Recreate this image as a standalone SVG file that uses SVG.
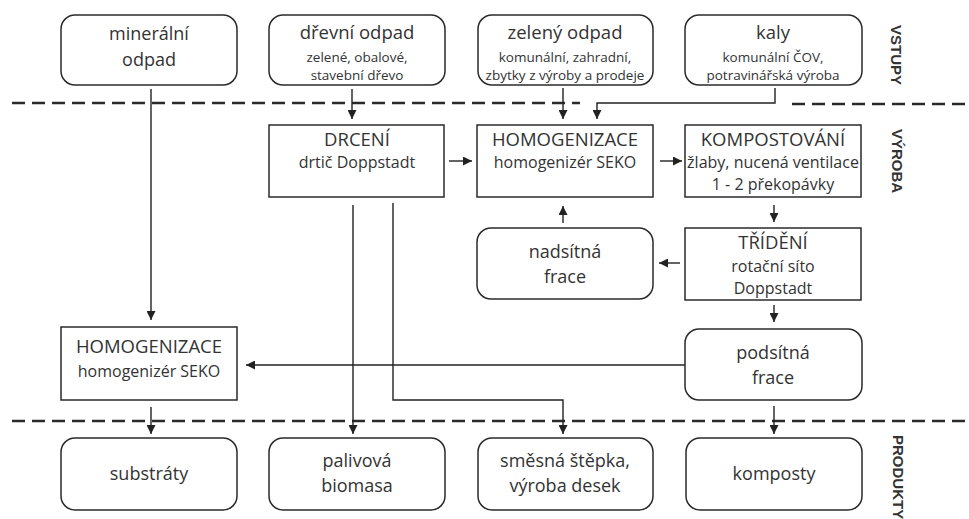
<svg xmlns="http://www.w3.org/2000/svg" width="969" height="519" viewBox="0 0 969 519">
<defs>
<marker id="ah" viewBox="0 0 10 10" refX="10" refY="5" markerWidth="9" markerHeight="9" markerUnits="userSpaceOnUse" orient="auto">
<path d="M0,0 L10,5 L0,10 z" fill="#222"/>
</marker>
<style>
.box{fill:#fff;stroke:#2a2a2a;stroke-width:1.5}
.t{font-family:"Open Sans","Liberation Sans",sans-serif;fill:#333;text-anchor:middle}
.h{font-size:18.5px}
.m{font-size:16px}
.s{font-size:13.5px}
.b{font-size:18px}
.c{fill:none;stroke:#222;stroke-width:1.4}
.ca{fill:none;stroke:#222;stroke-width:1.4;marker-end:url(#ah)}
.dash{fill:none;stroke:#2a2a2a;stroke-width:2.5;stroke-dasharray:13 7}
.lab{font-family:"Liberation Sans",Arial,sans-serif;font-weight:bold;font-size:15px;fill:#333}
</style>
</defs>
<rect width="969" height="519" fill="#fff"/>

<g id="separators">
<line class="dash" x1="12" y1="103" x2="580" y2="103"/>
<line class="dash" x1="792" y1="104" x2="969" y2="104"/>
<line class="dash" x1="12" y1="421" x2="969" y2="421"/>
</g>

<g id="section-labels">
<text class="lab" transform="translate(891,25) rotate(90)">VSTUPY</text>
<text class="lab" transform="translate(892,129) rotate(90)">VÝROBA</text>
<text class="lab" transform="translate(893,435) rotate(90)">PRODUKTY</text>
</g>

<g id="connectors">
<path class="ca" d="M352,89 V119"/>
<path class="ca" d="M563,88 V119"/>
<path class="ca" d="M775,88 V103 H597 V119"/>
<path class="ca" d="M449,161 H472"/>
<path class="ca" d="M660,161 H682"/>
<path class="ca" d="M774,205 V222"/>
<path class="ca" d="M680,263 H659"/>
<path class="ca" d="M563,223 V206"/>
<path class="ca" d="M774,305 V322"/>
<path class="ca" d="M685,365 H246"/>
<path class="ca" d="M151,89 V320"/>
<path class="ca" d="M151,407 V434"/>
<path class="ca" d="M353,205 V434"/>
<path class="ca" d="M393,203 V400 H563 V434"/>
<path class="ca" d="M774,406 V434"/>
</g>

<g id="mineralni-odpad">
<rect class="box" x="61" y="15" width="176" height="70" rx="14"/>
<text class="t b" x="149" y="40">minerální</text>
<text class="t b" x="149" y="66">odpad</text>
</g>
<g id="drevni-odpad">
<rect class="box" x="269" y="15" width="176" height="70" rx="14"/>
<text class="t h" x="357" y="39">dřevní odpad</text>
<text class="t s" x="357" y="62">zelené, obalové,</text>
<text class="t s" x="357" y="80">stavební dřevo</text>
</g>
<g id="zeleny-odpad">
<rect class="box" x="478" y="15" width="175" height="70" rx="14"/>
<text class="t h" x="565" y="39">zelený odpad</text>
<text class="t s" x="565" y="62">komunální, zahradní,</text>
<text class="t s" x="565" y="80">zbytky z výroby a prodeje</text>
</g>
<g id="kaly">
<rect class="box" x="685" y="15" width="177" height="70" rx="14"/>
<text class="t h" x="773" y="39">kaly</text>
<text class="t s" x="773" y="62">komunální ČOV,</text>
<text class="t s" x="773" y="80">potravinářská výroba</text>
</g>

<g id="drceni">
<rect class="box" x="269" y="125" width="175" height="72"/>
<text class="t h" x="357" y="146">DRCENÍ</text>
<text class="t m" x="357" y="168">drtič Doppstadt</text>
</g>
<g id="homogenizace-1">
<rect class="box" x="477" y="125" width="176" height="72"/>
<text class="t h" x="565" y="146">HOMOGENIZACE</text>
<text class="t m" x="565" y="168">homogenizér SEKO</text>
</g>
<g id="kompostovani">
<rect class="box" x="685" y="125" width="176" height="72"/>
<text class="t h" x="773" y="146">KOMPOSTOVÁNÍ</text>
<text class="t m" x="773" y="168">žlaby, nucená ventilace</text>
<text class="t m" x="773" y="190">1 - 2 překopávky</text>
</g>
<g id="nadsitna-frace">
<rect class="box" x="477" y="228" width="176" height="71" rx="14"/>
<text class="t b" x="565" y="258">nadsítná</text>
<text class="t b" x="565" y="283">frace</text>
</g>
<g id="trideni">
<rect class="box" x="685" y="228" width="176" height="72"/>
<text class="t h" x="773" y="249">TŘÍDĚNÍ</text>
<text class="t m" x="773" y="272">rotační síto</text>
<text class="t m" x="773" y="294">Doppstadt</text>
</g>
<g id="homogenizace-2">
<rect class="box" x="61" y="327" width="176" height="73"/>
<text class="t h" x="149" y="353">HOMOGENIZACE</text>
<text class="t m" x="149" y="377">homogenizér SEKO</text>
</g>
<g id="podsitna-frace">
<rect class="box" x="685" y="329" width="177" height="71" rx="14"/>
<text class="t b" x="773" y="359">podsítná</text>
<text class="t b" x="773" y="384">frace</text>
</g>

<g id="substraty">
<rect class="box" x="61" y="438" width="176" height="72" rx="14"/>
<text class="t b" x="149" y="480">substráty</text>
</g>
<g id="palivova-biomasa">
<rect class="box" x="269" y="438" width="176" height="72" rx="14"/>
<text class="t b" x="357" y="467">palivová</text>
<text class="t b" x="357" y="492">biomasa</text>
</g>
<g id="smesna-stepka">
<rect class="box" x="478" y="438" width="175" height="72" rx="14"/>
<text class="t b" x="565" y="467">směsná štěpka,</text>
<text class="t b" x="565" y="492">výroba desek</text>
</g>
<g id="komposty">
<rect class="box" x="686" y="438" width="176" height="72" rx="14"/>
<text class="t b" x="774" y="480">komposty</text>
</g>
</svg>
